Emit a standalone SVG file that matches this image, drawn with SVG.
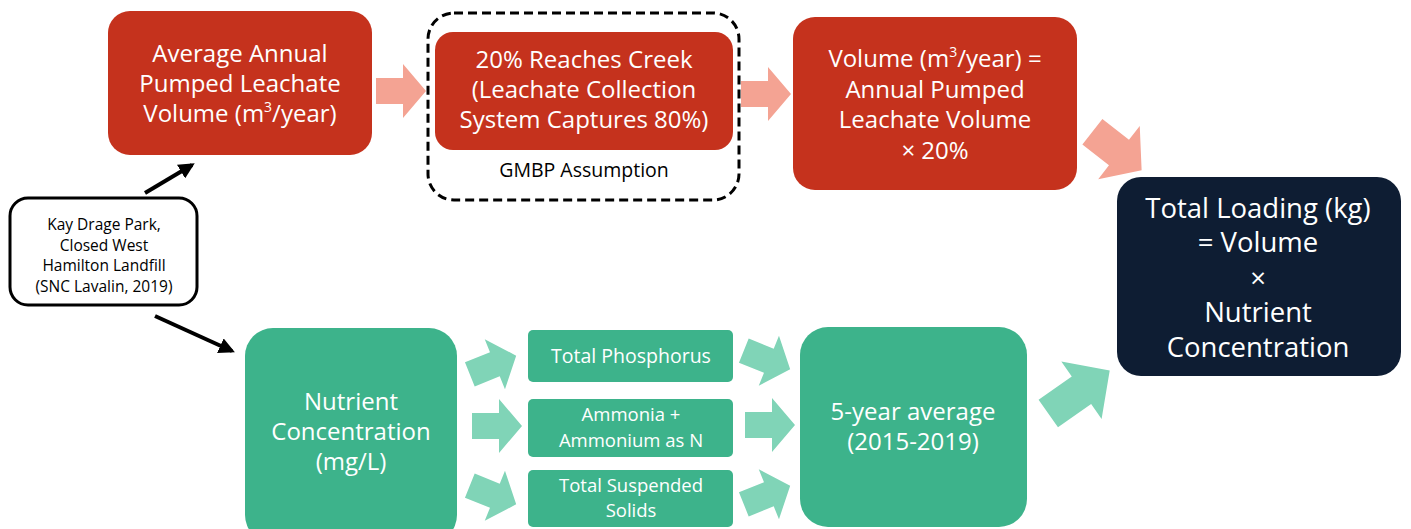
<svg xmlns="http://www.w3.org/2000/svg" xmlns:xlink="http://www.w3.org/1999/xlink" width="1411" height="529" viewBox="0 0 1411 529">
<style>
.red{fill:#c5321d}
.grn{fill:#3db38b}
.navy{fill:#0e1d33}
.t{font-family:"Open Sans","Noto Sans",sans-serif;fill:#ffffff;text-anchor:middle}
.big{font-size:24px}
.mid{font-size:19.5px}
.sm{font-size:18.5px}
.huge{font-size:27.5px}
.k{font-family:"Open Sans","Noto Sans",sans-serif;fill:#000;text-anchor:middle}
.sal{fill:#f4a393}
.lg{fill:#80d4b7}
.blk{stroke:#000;stroke-width:4;fill:none}
</style>
<defs>
<path id="ba" d="M-25,-13 H2 V-27 L25,0 L2,27 V13 H-25 Z"/>
<marker id="ah" viewBox="0 0 10 10" refX="8" refY="5" markerWidth="4" markerHeight="4" orient="auto" markerUnits="strokeWidth"><path d="M0,0 L10,5 L0,10 Z" fill="#000"/></marker>
</defs>
<rect width="1411" height="529" fill="#ffffff"/>

<g id="connectors">
<use href="#ba" class="sal" transform="translate(401,91)"/>
<use href="#ba" class="sal" transform="translate(766,94)"/>
<use href="#ba" class="sal" transform="translate(1117,151) rotate(38) scale(1.25)"/>
<use href="#ba" class="lg" transform="translate(493,365) rotate(-22)"/>
<use href="#ba" class="lg" transform="translate(497,426)"/>
<use href="#ba" class="lg" transform="translate(493,495) rotate(22)"/>
<use href="#ba" class="lg" transform="translate(767,360) rotate(22)"/>
<use href="#ba" class="lg" transform="translate(770,425)"/>
<use href="#ba" class="lg" transform="translate(767,495) rotate(-22)"/>
<use href="#ba" class="lg" transform="translate(1079,392) rotate(-35) scale(1.5,1.3)"/>
<line class="blk" x1="145" y1="193" x2="192" y2="165" marker-end="url(#ah)"/>
<line class="blk" x1="155" y1="316" x2="232" y2="351" marker-end="url(#ah)"/>
</g>

<g id="n-avg">
<rect class="red" x="108" y="11" width="264" height="144" rx="22"/>
<text class="t big" x="240" y="62">Average Annual</text>
<text class="t big" x="240" y="92">Pumped Leachate</text>
<text class="t big" x="240" y="122">Volume (m<tspan font-size="14" dy="-10">3</tspan><tspan dy="10">/year)</tspan></text>
</g>

<g id="n-creek">
<rect x="428" y="13" width="311" height="187" rx="26" fill="none" stroke="#000" stroke-width="3" stroke-dasharray="9,5"/>
<rect class="red" x="435" y="32" width="298" height="118" rx="18"/>
<text class="t big" x="584" y="68">20% Reaches Creek</text>
<text class="t big" x="584" y="98">(Leachate Collection</text>
<text class="t big" x="584" y="128">System Captures 80%)</text>
<text class="k mid" x="584" y="177">GMBP Assumption</text>
</g>

<g id="n-vol">
<rect class="red" x="793" y="17" width="284" height="173" rx="22"/>
<text class="t big" x="935" y="67">Volume (m<tspan font-size="14" dy="-10">3</tspan><tspan dy="10">/year) =</tspan></text>
<text class="t big" x="935" y="98">Annual Pumped</text>
<text class="t big" x="935" y="128">Leachate Volume</text>
<text class="t big" x="935" y="159">× 20%</text>
</g>

<g id="n-total">
<rect class="navy" x="1117" y="177" width="284" height="199" rx="24"/>
<text class="t huge" x="1258" y="218">Total Loading (kg)</text>
<text class="t huge" x="1258" y="252">= Volume</text>
<text class="t huge" x="1258" y="288">×</text>
<text class="t huge" x="1258" y="322">Nutrient</text>
<text class="t huge" x="1258" y="357">Concentration</text>
</g>

<g id="n-source">
<rect x="10" y="198" width="187" height="107" rx="18" fill="#fff" stroke="#000" stroke-width="3"/>
<text class="k" font-size="15.5" x="104" y="230">Kay Drage Park,</text>
<text class="k" font-size="15.5" x="104" y="250.5">Closed West</text>
<text class="k" font-size="15.5" x="104" y="271">Hamilton Landfill</text>
<text class="k" font-size="15.5" x="104" y="291.5">(SNC Lavalin, 2019)</text>
</g>

<g id="n-nutrient">
<rect class="grn" x="245" y="328" width="212" height="215" rx="28"/>
<text class="t big" x="351" y="410">Nutrient</text>
<text class="t big" x="351" y="440">Concentration</text>
<text class="t big" x="351" y="470">(mg/L)</text>
</g>

<g id="n-tp">
<rect class="grn" x="528" y="330" width="205" height="52" rx="5"/>
<text class="t mid" x="631" y="363">Total Phosphorus</text>
</g>

<g id="n-amm">
<rect class="grn" x="528" y="399" width="205" height="58" rx="5"/>
<text class="t sm" x="631" y="421">Ammonia +</text>
<text class="t sm" x="631" y="446.5">Ammonium as N</text>
</g>

<g id="n-tss">
<rect class="grn" x="528" y="470" width="205" height="57" rx="5"/>
<text class="t sm" x="631" y="491.5">Total Suspended</text>
<text class="t sm" x="631" y="517">Solids</text>
</g>

<g id="n-avg5">
<rect class="grn" x="800" y="327" width="227" height="200" rx="28"/>
<text class="t big" x="913" y="420">5-year average</text>
<text class="t big" x="913" y="450">(2015-2019)</text>
</g>
</svg>
